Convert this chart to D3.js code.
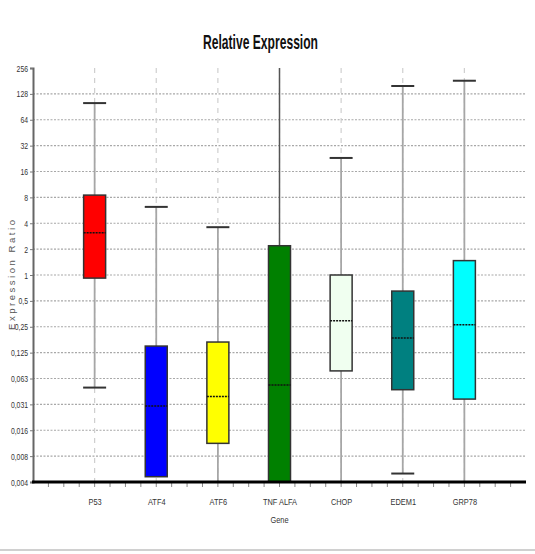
<!DOCTYPE html>
<html>
<head>
<meta charset="utf-8">
<script src="https://cdn.jsdelivr.net/npm/d3@7"></script>
<style>
  html, body { margin: 0; padding: 0; background: #fff; }
  svg { display: block; }
</style>
</head>
<body>
<svg id="chart" width="535" height="554"></svg>
<script>
// ---- data ----
const categories = ["P53", "ATF4", "ATF6", "TNF ALFA", "CHOP", "EDEM1", "GRP78"];
const whiskerHigh = [100, 6.2, 3.6, 300, 23, 158, 182];
const upperQuartile = [8.5, 0.149, 0.166, 2.19, 1.0, 0.65, 1.47];
const medianValues = [3.1, 0.030, 0.0385, 0.0526, 0.294, 0.185, 0.264];
const lowerQuartile = [0.92, 0.0045, 0.011, 0.003, 0.0766, 0.0463, 0.036];
const whiskerLow = [0.049, 0.0045, 0.003, 0.003, 0.003, 0.0049, 0.003];
const boxColors = ["#ff0000", "#0000ff", "#ffff00", "#008000", "#f0fff0", "#008080", "#00ffff"];
const tickValues = [256, 128, 64, 32, 16, 8, 4, 2, 1, 0.5, 0.25, 0.125, 0.0625, 0.03125, 0.015625, 0.0078125, 0.00390625];
const tickLabels = ["256", "128", "64", "32", "16", "8", "4", "2", "1", "0,5", "0,25", "0,125", "0,063", "0,031", "0,016", "0,008", "0,004"];

(function () {
const FONT = "'Liberation Sans', Arial, sans-serif";
const rows = categories.map((c, i) => ({
  cat: c, hi: whiskerHigh[i], q3: upperQuartile[i], med: medianValues[i],
  q1: lowerQuartile[i], lo: whiskerLow[i], color: boxColors[i]
}));

const svg = d3.select("#chart");
const pLeft = 33, pRight = 526, pTop = 68, pBottom = 482;

const x = d3.scalePoint().domain(categories).range([pLeft, pRight]).padding(1);
const y = d3.scaleLog().base(2).domain([1 / 256, 256]).range([pBottom, pTop]);
const boxW = 22, capW = 23;

svg.append("defs").append("clipPath").attr("id", "plotclip")
  .append("rect").attr("x", pLeft).attr("y", pTop).attr("width", pRight - pLeft).attr("height", pBottom - pTop);

// title
svg.append("text")
  .attr("x", 203).attr("y", 49)
  .attr("font-family", FONT)
  .attr("font-size", 21).attr("font-weight", "bold").attr("fill", "#111")
  .attr("textLength", 115).attr("lengthAdjust", "spacingAndGlyphs")
  .text("Relative Expression");

// horizontal gridlines
svg.append("g").selectAll("line")
  .data(tickValues.filter(v => v < 256 && v > 1 / 256))
  .join("line")
  .attr("x1", pLeft).attr("x2", pRight)
  .attr("y1", d => y(d)).attr("y2", d => y(d))
  .attr("stroke", "#a8a8a8").attr("stroke-width", 1.2).attr("stroke-dasharray", "2,1.5");

// vertical dashed gridlines
svg.append("g").selectAll("line")
  .data(categories).join("line")
  .attr("x1", d => x(d)).attr("x2", d => x(d))
  .attr("y1", pTop).attr("y2", pBottom)
  .attr("stroke", "#cfcfcf").attr("stroke-width", 1.2).attr("stroke-dasharray", "5,5");

const plot = svg.append("g").attr("clip-path", "url(#plotclip)");

// whiskers
plot.selectAll("line.wh-hi").data(rows).join("line").attr("class", "wh-hi")
  .attr("x1", d => x(d.cat)).attr("x2", d => x(d.cat))
  .attr("y1", d => y(d.q3)).attr("y2", d => y(d.hi))
  .attr("stroke", d => d.hi >= 256 ? "#555" : "#a6a6a6")
  .attr("stroke-width", d => d.hi >= 256 ? 1.5 : 1.8);
plot.selectAll("line.wh-lo").data(rows).join("line").attr("class", "wh-lo")
  .attr("x1", d => x(d.cat)).attr("x2", d => x(d.cat))
  .attr("y1", d => y(d.q1)).attr("y2", d => y(d.lo))
  .attr("stroke", "#a6a6a6").attr("stroke-width", 1.8);

// boxes
plot.selectAll("rect.box").data(rows).join("rect").attr("class", "box")
  .attr("x", d => x(d.cat) - boxW / 2).attr("width", boxW)
  .attr("y", d => y(d.q3)).attr("height", d => y(d.q1) - y(d.q3))
  .attr("fill", d => d.color).attr("stroke", "#333").attr("stroke-width", 1.5);

// medians
plot.selectAll("line.med").data(rows).join("line").attr("class", "med")
  .attr("x1", d => x(d.cat) - boxW / 2).attr("x2", d => x(d.cat) + boxW / 2)
  .attr("y1", d => y(d.med)).attr("y2", d => y(d.med))
  .attr("stroke", "#111").attr("stroke-width", 1.5).attr("stroke-dasharray", "2,1");

// caps
const caps = [];
rows.forEach(d => {
  if (d.hi > d.q3 && d.hi < 256) caps.push({ cat: d.cat, v: d.hi });
  if (d.lo < d.q1 && d.lo > 1 / 256) caps.push({ cat: d.cat, v: d.lo });
});
plot.selectAll("line.cap").data(caps).join("line").attr("class", "cap")
  .attr("x1", d => x(d.cat) - capW / 2).attr("x2", d => x(d.cat) + capW / 2)
  .attr("y1", d => y(d.v)).attr("y2", d => y(d.v))
  .attr("stroke", "#333").attr("stroke-width", 2);

// left axis
const sx = 0.72;
const yAxis = d3.axisLeft(y).tickValues(tickValues)
  .tickFormat((d, i) => tickLabels[i]).tickSize(3).tickPadding(2);
const gy = svg.append("g").attr("transform", `translate(${pLeft},0)`).call(yAxis);
gy.select(".domain").attr("stroke", "#666").attr("stroke-width", 2);
gy.selectAll(".tick line").attr("stroke", "#777");
gy.selectAll(".tick text")
  .attr("font-family", FONT).attr("font-size", 9.5).attr("fill", "#333")
  .attr("x", -5 / sx).attr("transform", `scale(${sx},1)`);

// bottom axis
const gx = svg.append("g").attr("transform", `translate(0,${pBottom})`)
  .call(d3.axisBottom(x).tickSize(0).tickPadding(16));
gx.select(".domain").remove();
gx.selectAll(".tick text")
  .attr("font-family", FONT).attr("font-size", 9.5).attr("fill", "#333")
  .attr("transform", "scale(0.78,1)");
// minor ticks every quarter step
const step = x.step();
const minor = d3.range(1, Math.round((pRight - pLeft) / (step / 4)));
svg.append("g").selectAll("line").data(minor).join("line")
  .attr("x1", k => pLeft + k * step / 4).attr("x2", k => pLeft + k * step / 4)
  .attr("y1", pBottom).attr("y2", pBottom + 5)
  .attr("stroke", "#888").attr("stroke-width", 1);
svg.append("line").attr("x1", pLeft - 1).attr("x2", pRight)
  .attr("y1", pBottom).attr("y2", pBottom)
  .attr("stroke", "#000").attr("stroke-width", 3);

// axis titles
svg.append("g").attr("transform", `translate(${x("TNF ALFA")},523) scale(0.78,1)`)
  .append("text").attr("text-anchor", "middle")
  .attr("font-family", FONT).attr("font-size", 9.5).attr("fill", "#333").text("Gene");
svg.append("text")
  .attr("transform", "translate(15,275) rotate(-90)")
  .attr("text-anchor", "middle")
  .attr("font-family", FONT)
  .attr("font-size", 9.5).attr("fill", "#555")
  .attr("textLength", 110).attr("lengthAdjust", "spacing")
  .text("Expression Ratio");

// bottom page rule
svg.append("line").attr("x1", 0).attr("x2", 535).attr("y1", 550).attr("y2", 550)
  .attr("stroke", "#d0d0d0").attr("stroke-width", 2);
})();
</script>
</body>
</html>
